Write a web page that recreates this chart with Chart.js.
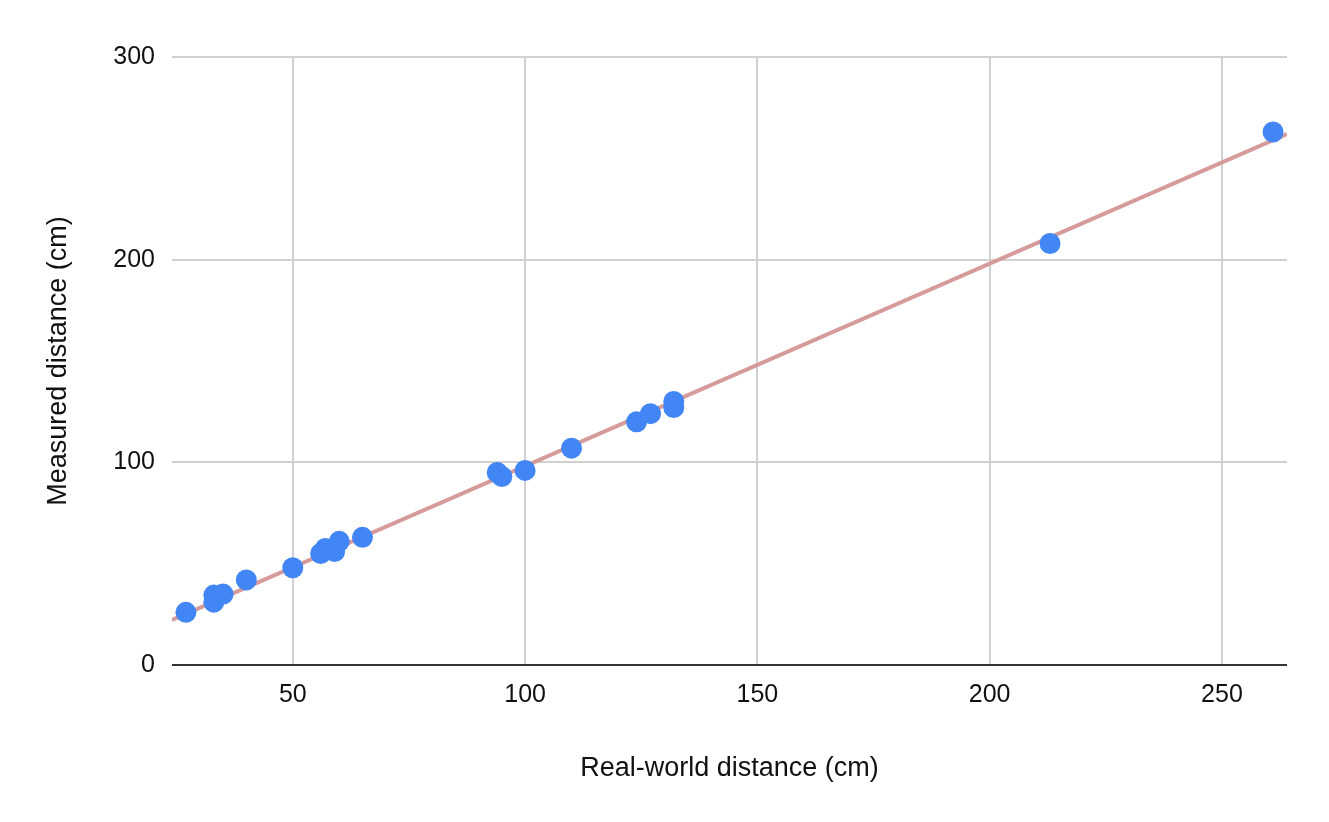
<!DOCTYPE html>
<html>
<head>
<meta charset="utf-8">
<script src="https://cdn.jsdelivr.net/npm/chart.js@4/dist/chart.umd.min.js"></script>
<style>
  html, body { margin: 0; padding: 0; background: #fff; }
  #wrap { width: 1329px; height: 822px; }
</style>
</head>
<body>
<div id="wrap"><canvas id="chart"></canvas></div>
<script>
// real-world distance (cm) vs measured distance (cm)
let realDist = [27, 33, 33, 35, 40, 50, 56, 57, 59, 60, 65, 94, 95, 100, 110, 124, 127, 132, 132, 213, 261];
let measured = [26, 31, 34.5, 35, 42, 48, 55, 57.5, 56, 61, 63, 95, 93, 96, 107, 120, 124, 130, 127, 208, 263];

// trendline end points
let trendX = [24, 264];
let trendY = [22.2, 262];

let xTicks = [50, 100, 150, 200, 250];
let yTicks = [0, 100, 200, 300];

function chart1() {
  let ctx = document.getElementById('chart').getContext('2d');
  let points = realDist.map((x, i) => ({ x: x, y: measured[i] }));
  let trend = trendX.map((x, i) => ({ x: x, y: trendY[i] }));

  let myChart = new Chart(ctx, {
    type: 'scatter',
    data: {
      datasets: [{
        data: points,
        order: 1,
        pointRadius: 10.5,
        pointHoverRadius: 10.5,
        pointBorderWidth: 0,
        backgroundColor: '#4285F4',
        borderColor: '#4285F4'
      }, {
        type: 'line',
        data: trend,
        order: 2,
        borderColor: '#d69a9a',
        borderWidth: 4,
        pointRadius: 0,
        fill: false
      }]
    },
    options: {
      responsive: true,
      maintainAspectRatio: false,
      animation: false,
      events: [],
      scales: {
        x: {
          type: 'linear',
          min: 24,
          max: 264,
          afterBuildTicks: (scale) => { scale.ticks = xTicks.map(v => ({ value: v })); },
          afterFit: (scale) => { scale.height = 157; },
          grid: {
            color: '#d0d0d0',
            lineWidth: 2,
            drawTicks: false
          },
          border: { display: false },
          ticks: {
            includeBounds: false,
            padding: 15,
            color: '#111',
            font: { family: 'Liberation Sans', size: 25 }
          },
          title: {
            display: true,
            text: 'Real-world distance (cm)',
            color: '#111',
            font: { family: 'Liberation Sans', size: 27 },
            padding: { bottom: 37 }
          }
        },
        y: {
          min: 0,
          max: 300,
          afterBuildTicks: (scale) => { scale.ticks = yTicks.map(v => ({ value: v })); },
          afterFit: (scale) => { scale.width = 172; },
          grid: {
            color: (c) => c.tick && c.tick.value === 0 ? '#333333' : '#d0d0d0',
            lineWidth: 2,
            drawTicks: false
          },
          border: { display: false },
          ticks: {
            padding: 17,
            color: '#111',
            font: { family: 'Liberation Sans', size: 25 }
          },
          title: {
            display: true,
            text: 'Measured distance (cm)',
            color: '#111',
            font: { family: 'Liberation Sans', size: 27 },
            padding: { top: 42 }
          }
        }
      },
      plugins: {
        legend: { display: false },
        tooltip: { enabled: false }
      },
      layout: {
        padding: { left: 0, right: 42, top: 57, bottom: 0 }
      }
    }
  });
}

chart1();
</script>
</body>
</html>
